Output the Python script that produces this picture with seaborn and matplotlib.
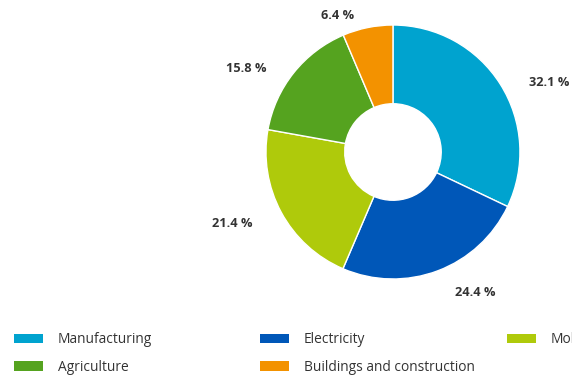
import matplotlib
matplotlib.use("Agg")
import matplotlib.pyplot as plt
import seaborn as sns
import numpy as np
from matplotlib.patches import Patch

sectors = ["Manufacturing", "Electricity", "Mobility", "Agriculture", "Buildings and construction"]
shares = [32.1, 24.4, 21.4, 15.8, 6.4]
colours = ["#00a3cf", "#0057b8", "#afca0b", "#55a31f", "#f39200"]

sns.set_theme(style="white")
plt.rcParams['font.family'] = ['Open Sans', 'DejaVu Sans']

fig = plt.figure(figsize=(5.72, 3.76), dpi=100)
ax = fig.add_axes([0.465, 0.258, 0.444, 0.6755])

pal = sns.color_palette(colours)
labels = [f"{v:.1f} %" for v in shares]
wedges, texts = ax.pie(shares, colors=pal, startangle=90, counterclock=False,
                       labels=labels, labeldistance=1.18,
                       wedgeprops=dict(width=0.62, edgecolor="white", linewidth=1),
                       textprops=dict(fontsize=9.2, fontweight="bold", color="#333333"))
# push labels a bit outwards, upper ones a bit lower
for t in texts:
    x, y = t.get_position()
    x += np.sign(x) * 0.07
    if y > 0:
        y -= 0.08
    t.set_position((x, y))
ax.set_xlim(-1, 1)
ax.set_ylim(-1, 1)
ax.set_aspect("equal")

# legend laid out in rows: one legend per column
cols = [[0, 3], [1, 4], [2]]
xpos = [14, 260, 507]
for c, x in zip(cols, xpos):
    handles = [Patch(facecolor=pal[i], edgecolor="none") for i in c]
    fig.legend(handles, [sectors[i] for i in c], loc="upper left",
               bbox_to_anchor=(x / 572, (376 - 332) / 376), frameon=False,
               fontsize=9.9, handlelength=2.1, handleheight=0.66,
               handletextpad=1.1, labelspacing=0.93, borderpad=0,
               borderaxespad=0, labelcolor="#333333")

fig.savefig("out.png", dpi=100)
